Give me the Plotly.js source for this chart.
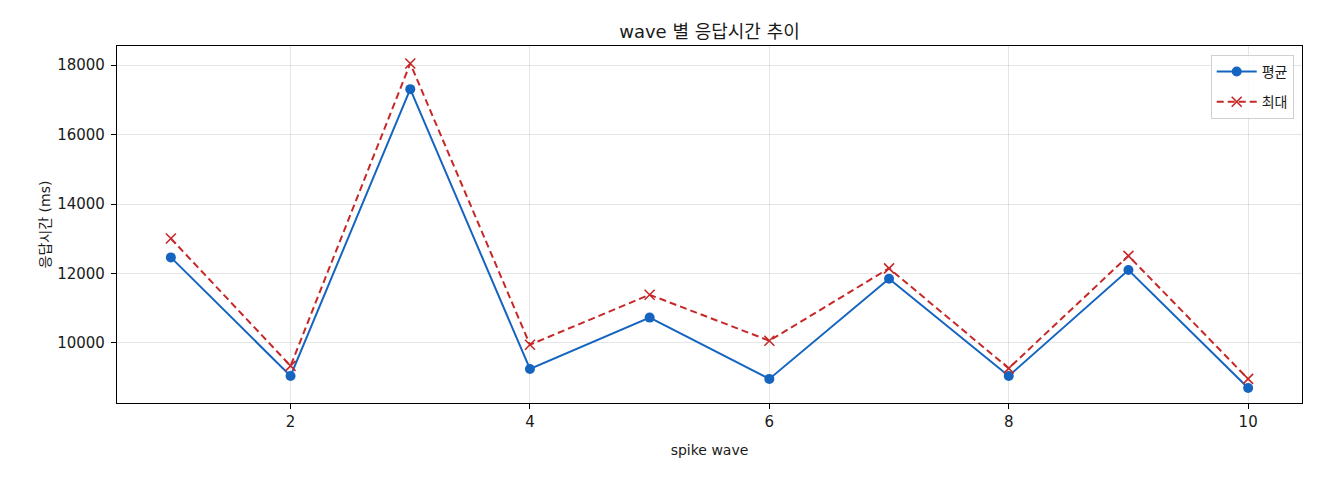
<!DOCTYPE html>
<html>
<head>
<meta charset="utf-8">
<script src="https://cdn.plot.ly/plotly-3.0.1.min.js"></script>
<style>
  html, body { margin: 0; padding: 0; background: #fff; }
  #chart { width: 1320px; height: 480px; }
</style>
</head>
<body>
<div id="chart"></div>
<script>
// ── Data ──
const waves = [1, 2, 3, 4, 5, 6, 7, 8, 9, 10];
const avgMs = [12465, 9050, 17310, 9250, 10730, 8965, 11850, 9050, 12100, 8705];
const maxMs = [13010, 9340, 18050, 9950, 11390, 10065, 12150, 9270, 12510, 8965];
const xTicks = [2, 4, 6, 8, 10];
const yTicks = [10000, 12000, 14000, 16000, 18000];
const yTickText = ['10000', '12000', '14000', '16000', '18000'];

const FONT = '"DejaVu Sans", "Noto Sans CJK KR", sans-serif';
const TEXT = '#1a1a1a';

const traces = [
    {
        x: waves,
        y: avgMs,
        name: '평균',
        legendgroup: 'avg',
        type: 'scatter',
        mode: 'lines+markers',
        line: { color: '#1565c0', width: 2 },
        marker: { symbol: 'circle', size: 10, color: '#1565c0' },
    },
    {
        x: waves,
        y: maxMs,
        name: '최대',
        legendgroup: 'max',
        type: 'scatter',
        mode: 'lines+markers',
        line: { color: '#c62828', width: 2, dash: '7px,4px' },
        marker: { symbol: 'x-thin-open', size: 10, line: { color: '#c62828', width: 1.6 } },
    },
];

const axisCommon = {
    showline: true,
    linecolor: '#000',
    linewidth: 1.2,
    mirror: true,
    ticks: 'outside',
    ticklen: 5,
    tickcolor: '#000',
    showgrid: true,
    gridcolor: 'rgba(0,0,0,0.1)',
    gridwidth: 1,
    zeroline: false,
    tickfont: { family: FONT, size: 15, color: TEXT },
};

const layout = {
    width: 1320,
    height: 480,
    paper_bgcolor: '#fff',
    plot_bgcolor: '#fff',
    margin: { l: 117, r: 18, t: 46, b: 77 },
    font: { family: FONT, color: TEXT },
    title: {
        text: 'wave 별 응답시간 추이',
        font: { family: FONT, size: 18, color: TEXT },
        x: 0.5, xref: 'paper', xanchor: 'center',
        y: 1, yref: 'paper', yanchor: 'bottom', pad: { b: 8 },
    },
    xaxis: Object.assign({}, axisCommon, {
        range: [0.55, 10.45],
        tickvals: xTicks,
        title: { text: 'spike wave', font: { family: FONT, size: 14, color: TEXT }, standoff: 15 },
    }),
    yaxis: Object.assign({}, axisCommon, {
        range: [8271, 18553],
        tickvals: yTicks,
        ticktext: yTickText,
        ticklabelstandoff: 3,
        title: { text: '응답시간 (ms)', font: { family: FONT, size: 14, color: TEXT }, standoff: 3 },
    }),
    legend: {
        x: 0.993, y: 0.975,
        xanchor: 'right', yanchor: 'top',
        bgcolor: 'rgba(255,255,255,0.8)',
        bordercolor: '#d0d0d0',
        borderwidth: 1,
        font: { family: FONT, size: 14, color: TEXT },
        itemwidth: 40,
        tracegroupgap: 9,
    },
    showlegend: true,
};

Plotly.newPlot('chart', traces, layout, { displayModeBar: false, responsive: false });
</script>
</body>
</html>
